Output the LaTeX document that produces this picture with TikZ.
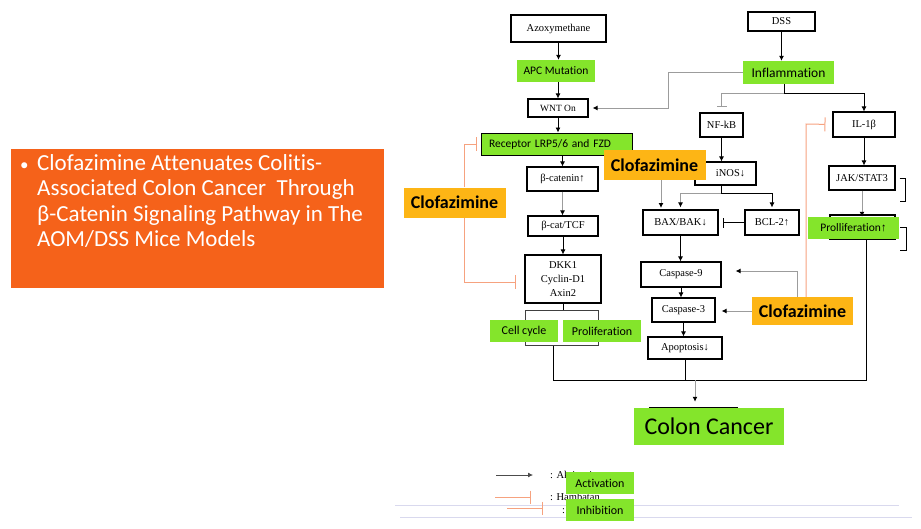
\documentclass[tikz,border=0pt]{standalone}
\usepackage{fontspec}
\setmainfont{Liberation Serif}
\newfontfamily\carl[Ligatures=CommonOff]{Carlito}
\usetikzlibrary{calc,arrows.meta}
\definecolor{orng}{HTML}{F5621A}
\definecolor{gold}{HTML}{FDB515}
\definecolor{lime}{HTML}{84E52B}
\definecolor{salmon}{HTML}{F6A27F}
\definecolor{grey}{HTML}{9C9C9C}
\definecolor{lav}{HTML}{D9D9EE}
\tikzset{
  sz/.style 2 args={minimum width=#1pt, minimum height=#2pt},
  box/.style={draw=black, line width=1.1pt, fill=white, inner sep=0pt, font=\fontsize{10.5}{12}\selectfont},
  gbox/.style={fill=lime, inner sep=0pt, font=\carl\fontsize{12}{14}\selectfont},
  clof/.style={fill=gold, inner sep=0pt, font=\carl\bfseries\fontsize{18}{20}\selectfont},
  wire/.style={draw=black, line width=0.8pt},
  arr/.style={draw=black, line width=0.8pt, -{Latex[length=5pt,width=5pt]}},
  garr/.style={draw=grey, line width=1pt, -{Latex[length=5pt,width=5pt,black]}},
  inh/.style={draw=black, line width=0.8pt, -{Bar[width=10pt]}},
  ginh/.style={draw=grey, line width=1pt, -{Bar[width=10pt]}},
  oinh/.style={draw=salmon, line width=1pt, -{Bar[width=14pt]}},
  leg/.style={inner sep=0pt, anchor=west, font=\fontsize{10.5}{12}\selectfont},
}

\begin{document}
\begin{tikzpicture}[x=1pt,y=-1pt]
  \useasboundingbox (0,0) rectangle (921,528);

  % title box
  \node[fill=orng, sz={373}{139}] (ttl) at (197.5,218.5) {};
  \node[anchor=north west, inner sep=0pt, text=white,
        font=\carl\fontsize{23}{25.5}\selectfont] (ttxt) at (20,152)
    {\begin{tabular}{@{}p{17pt}@{}l@{}}
      {\fontsize{17}{17}\selectfont •} & Clofazimine Attenuates Colitis-\\
        & Associated Colon Cancer\ \ Through\\
        & β-Catenin Signaling Pathway in The\\
        & AOM/DSS Mice Models
     \end{tabular}};

  % left column
  \node[box, sz={95}{27}] (azo) at (558.5,28.5) {Azoxymethane};
  \node[gbox, sz={78}{22}, font=\carl\fontsize{11.5}{14}\selectfont] (apc) at (556,71) {APC Mutation};
  \node[box, sz={60}{18}, font=\fontsize{9.5}{11}\selectfont] (wnt) at (558,108) {WNT On};
  \node[gbox, draw=black, line width=1pt, sz={151}{22}, text width=135pt, inner xsep=8pt, font=\carl\fontsize{11.5}{14}\selectfont] (rec) at (556.5,144) {Receptor LRP5/6 and FZD};
  \node[box, sz={71}{24}] (bcat) at (562.5,179) {β-catenin↑};
  \node[box, sz={70}{20}] (tcf) at (563,226) {β-cat/TCF};
  \node[box, sz={76}{48}, align=center, font=\fontsize{10.5}{14}\selectfont] (dkk) at (563,279) {DKK1\\Cyclin-D1\\Axin2};
  \node[draw=black!75, line width=1pt, sz={73}{35}, inner sep=0pt] (grp) at (561.5,327.5) {};
  \node[gbox, sz={68}{22}] (cyc) at (524,331) {Cell cycle};
  \node[gbox, sz={78}{22}] (pro) at (602,331) {Proliferation};

  % right columns
  \node[box, sz={67}{19}] (dss) at (781.5,21.5) {DSS};
  \node[gbox, sz={91}{23}, font=\carl\fontsize{13.5}{16}\selectfont] (infl) at (788.5,72.5) {Inflammation};
  \node[box, sz={43}{24}] (nfkb) at (721.5,125) {NF-kB};
  \node[box, sz={61}{23}] (inos) at (725.5,173.5) {\hspace*{10pt}iNOS↓};
  \node[box, sz={75}{25}] (bax) at (680.5,222.5) {BAX/BAK↓};
  \node[box, sz={54}{25}] (bcl) at (772,222.5) {BCL-2↑};
  \node[box, sz={80}{25}] (casp9) at (681,274.5) {Caspase-9};
  \node[box, sz={63}{24}] (casp3) at (683.5,310) {Caspase-3};
  \node[box, sz={74}{22}] (apop) at (685,348) {Apoptosis↓};
  \node[box, sz={62}{25}] (il) at (864,124.5) {IL-1β};
  \node[box, sz={66}{24}] (jak) at (862,178) {JAK/STAT3};
  \node[box, sz={65}{24}] (jak2) at (862.5,227) {};
  \node[gbox, sz={91}{22}, font=\carl\fontsize{11.5}{14}\selectfont] (prl) at (853.5,228) {Prolliferation{\rmfamily↑}};
  \node[gbox, sz={150}{37}, font=\carl\fontsize{24}{28}\selectfont] (colon) at (709,426.5) {Colon Cancer};
  \draw[wire] ($(colon.north west)+(15,0)$) -- ++(89,0);

  % clofazimine labels
  \node[clof, sz={102}{30}] (clofL) at (454.5,202.5) {Clofazimine};
  \node[clof, sz={102}{30}] (clofT) at (654.5,165) {Clofazimine};
  \node[clof, sz={101}{28}] (clofB) at (802.5,311) {Clofazimine};

  % connectors, left
  \draw[arr] (azo.south) -- (azo.south |- apc.north);
  \draw[arr] (wnt.north |- apc.south) -- (wnt.north);
  \coordinate (wturn) at (668,108);
  \draw[garr, shorten >=4pt] (infl.west) -| (wturn) -- (wnt.east);
  \draw[arr] (wnt.south) -- (wnt.south |- rec.north);
  \draw[arr] (bcat.north |- rec.south) -- (bcat.north);
  \draw[garr] (bcat.south) -- (bcat.south |- tcf.north);
  \draw[arr] (tcf.south) -- (tcf.south |- dkk.north);
  \draw[wire] (dkk.south) -- (dkk.south |- grp.north);

  % collector to colon cancer
  \coordinate (jl) at (553,380);
  \coordinate (jr) at (866,380);
  \coordinate (jc) at (695,380);
  \draw[wire] (jl |- grp.south) -- (jl) -- (jr) -- (jr |- prl.south);
  \draw[wire] (apop.south) -- (apop.south |- jl);
  \draw[garr, shorten >=6pt] (jc) -- (jc |- colon.north);

  % connectors, right
  \draw[arr] (dss.south) -- (dss.south |- infl.north);
  \coordinate (isp) at (784,93);
  \draw[wire] (isp |- infl.south) -- (isp);
  \draw[ginh, shorten >=5pt] (isp) -| (nfkb.north);
  \draw[arr] (isp) -| (il.north);
  \draw[arr] (nfkb.south) -- (nfkb.south |- inos.north);
  \coordinate (nsp) at (721,193);
  \draw[wire] (nsp |- inos.south) -- (nsp);
  \draw[garr, shorten >=2pt] (nsp) -| (bax.north);
  \draw[arr, shorten >=2pt] (nsp) -| (bcl.north);
  \coordinate (cti) at (661,210);
  \draw[garr, shorten >=2pt] (cti |- clofT.south) -- (cti);
  \draw[inh, shorten >=4pt] (bcl.west) -- (bax.east);
  \draw[arr] (bax.south) -- (bax.south |- casp9.north);
  \coordinate (c9t) at (797,271);
  \draw[garr, shorten >=14pt] (c9t |- clofB.north) -- (c9t) -- (casp9.east |- c9t);
  \draw[arr] (casp9.south) -- (casp9.south |- casp3.north);
  \draw[garr, shorten >=6pt] (clofB.west) -- (clofB.west -| casp3.east);
  \draw[arr] (casp3.south) -- (casp3.south |- apop.north);
  \coordinate (ilt) at (806,124);
  \draw[oinh, shorten >=7pt] (ilt |- clofB.north) -- (ilt) -- (il.west);
  \draw[arr] (il.south) -- (il.south |- jak.north);
  \draw[garr] (jak.south) -- (jak.south |- prl.north);
  \draw[wire] ($(jak.east)+(4,0)$) -- ++(6,0) -- ++(0,23) -- ++(-6,0);
  \draw[wire] ($(prl.east)+(1,-1)$) -- ++(6,0) -- ++(0,23) -- ++(-6,0);

  % clofazimine on the left
  \coordinate (clt) at (464,144);
  \coordinate (clb) at (464,282);
  \draw[oinh, shorten >=4pt] (clt |- clofL.north) -- (clt) -- (rec.west);
  \draw[oinh, shorten >=8pt] (clb |- clofL.south) -- (clb) -- (dkk.west |- clb);

  % legend
  \draw[lav, line width=0.8pt] (395,505) -- (899,505);
  \draw[lav, line width=0.8pt] (400,517) -- (912,517);
  \coordinate (la) at (496,475);
  \coordinate (lb) at (533,475);
  \coordinate (lc) at (495,497);
  \coordinate (ld) at (531,497);
  \coordinate (le) at (507,508);
  \coordinate (lf) at (543,508);
  \draw[arr, draw=black!70] (la) -- (lb);
  \draw[oinh, -{Bar[width=13pt]}] (lc) -- (ld);
  \draw[oinh, -{Bar[width=13pt]}] (le) -- (lf);
  \node[leg] (lta) at (550,475) {: Aktivasi};
  \node[leg] (lth) at (550,497) {: Hambatan};
  \node[leg] (ltc) at (562,511) {:};
  \node[gbox, sz={68}{22}] (lga) at (600,483) {Activation};
  \node[gbox, sz={68}{22}] (lgi) at (600,510) {Inhibition};
\end{tikzpicture}
\end{document}
